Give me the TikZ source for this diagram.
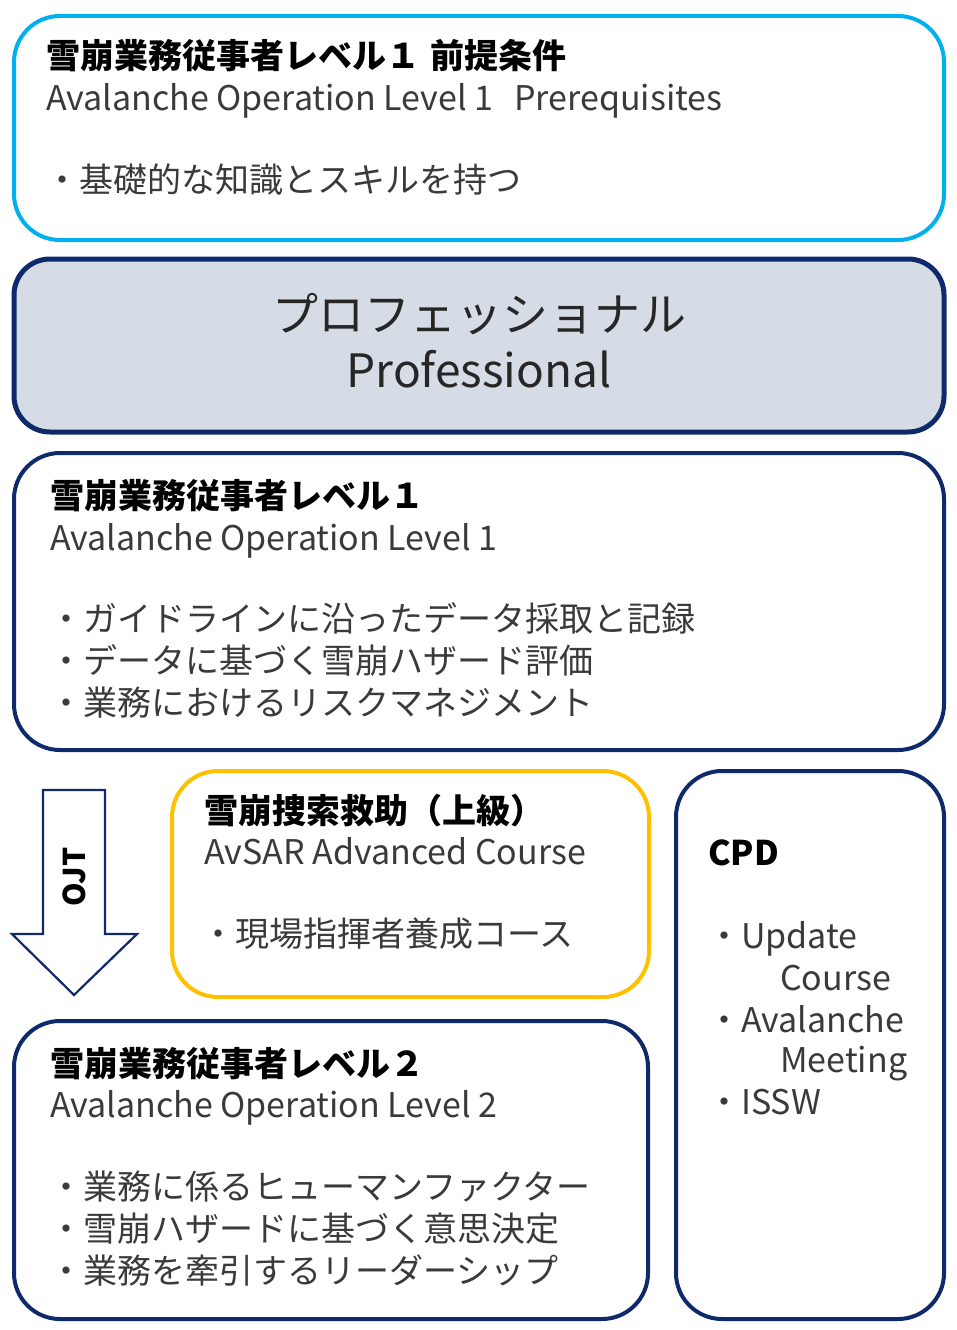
\documentclass[tikz,border=0pt]{standalone}
\usepackage{fontspec}
\setmainfont{Noto Sans CJK JP}
\usetikzlibrary{positioning}
\definecolor{cyanline}{HTML}{00B0F0}
\definecolor{navy}{HTML}{0E2A6B}
\definecolor{gold}{HTML}{FFC000}
\definecolor{profill}{HTML}{D6DCE5}
\definecolor{bodytext}{HTML}{3A3A3A}
\tikzset{
  x=1pt, y=-1pt,
  boxshape/.style={rounded corners=46pt, line width=4pt},
  ttl/.style={anchor=base west, inner sep=0pt, font=\fontsize{34}{40}\selectfont\bfseries, text=black},
  txt/.style={anchor=base west, inner sep=0pt, font=\fontsize{34}{40}\selectfont, text=bodytext},
  big/.style={anchor=base, inner sep=0pt, font=\fontsize{46}{52}\selectfont, text=black!85},
}
\begin{document}
\begin{tikzpicture}
\useasboundingbox (0,0) rectangle (956,1330);
% boxes
\draw[boxshape, draw=cyanline] (14,16) rectangle (944,240);
\draw[boxshape, draw=navy, fill=profill, line width=5pt, rounded corners=36pt] (14,259) rectangle (944,432);
\draw[boxshape, draw=navy] (14,453) rectangle (944,750);
\draw[boxshape, draw=gold] (172,771) rectangle (649,997);
\draw[boxshape, draw=navy] (676,771) rectangle (944,1319);
\draw[boxshape, draw=navy] (14,1021) rectangle (648,1319);
% OJT arrow
\draw[navy, line width=2.2pt, fill=white, line join=miter]
  (43,790) -- (105,790) -- (105,934) -- (137,934) -- (74,995) -- (12,934) -- (43,934) -- cycle;
\node[rotate=90, inner sep=0pt, font=\fontsize{30}{36}\selectfont\bfseries] (ojt) at (74,877) {OJT};
% Box 1
\node[ttl] (t1) at (46,69) {雪崩業務従事者レベル１\hspace{10pt}前提条件};
\node[txt] (e1) at (46,110) {Avalanche Operation Level 1\hspace{21pt}Prerequisites};
\node[txt] (b1a) at (45,192) {・基礎的な知識とスキルを持つ};
% Box 2
\node[big] (p1) at (479,331) {プロフェッショナル};
\node[big] (p2) at (479,387) {Professional};
% Box 3
\node[ttl] (t3) at (50,508) {雪崩業務従事者レベル１};
\node[txt] (e3) at (50,550) {Avalanche Operation Level 1};
\node[txt] (b3a) at (49,631) {・ガイドラインに沿ったデータ採取と記録};
\node[txt] (b3b) at (49,673) {・データに基づく雪崩ハザード評価};
\node[txt] (b3c) at (49,715) {・業務におけるリスクマネジメント};
% Box 4
\node[ttl] (t4) at (204,823) {雪崩捜索救助（上級）};
\node[txt] (e4) at (204,864) {AvSAR Advanced Course};
\node[txt] (b4a) at (201,946) {・現場指揮者養成コース};
% Box 5
\node[ttl] (t5) at (708,865) {CPD};
\node[txt] (c1) at (707,948) {・Update};
\node[txt] (c2) at (780,990) {Course};
\node[txt] (c3) at (707,1032) {・Avalanche};
\node[txt] (c4) at (780,1072) {Meeting};
\node[txt] (c5) at (707,1114) {・ISSW};
% Box 6
\node[ttl] (t6) at (50,1076) {雪崩業務従事者レベル２};
\node[txt] (e6) at (50,1117) {Avalanche Operation Level 2};
\node[txt] (b6a) at (49,1199) {・業務に係るヒューマンファクター};
\node[txt] (b6b) at (49,1241) {・雪崩ハザードに基づく意思決定};
\node[txt] (b6c) at (49,1283) {・業務を牽引するリーダーシップ};
\end{tikzpicture}
\end{document}
